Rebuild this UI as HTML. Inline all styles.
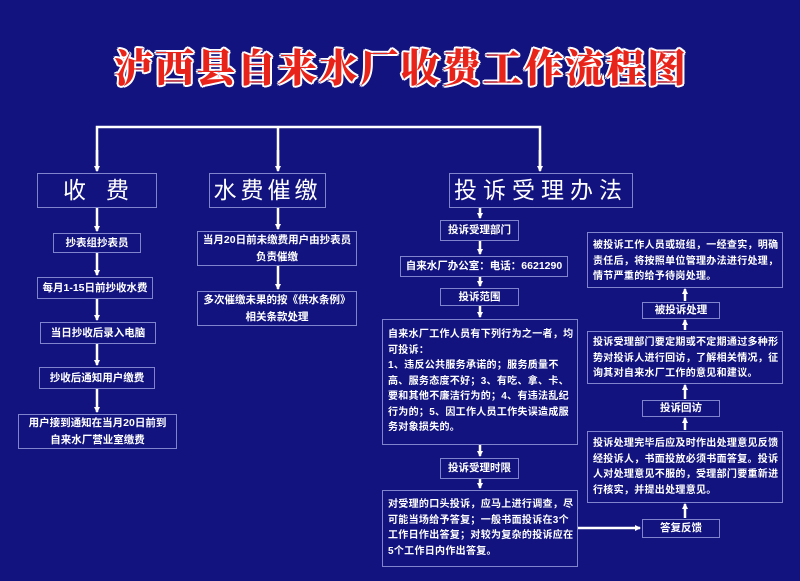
<!DOCTYPE html>
<html><head><meta charset="utf-8"><style>
body{margin:0;width:800px;height:581px;background:#12137f;overflow:hidden;position:relative;font-family:"Liberation Sans","Noto Sans CJK SC",sans-serif;color:#fff}
.b{position:absolute;box-sizing:border-box;border:1px solid #7f84cc;font-weight:bold;font-size:10.5px;line-height:17px;text-align:center;display:flex;align-items:center;justify-content:center}
.t{text-align:left;padding:4px 3px 4px 5px;line-height:15.5px;display:block;font-size:10px;letter-spacing:0.3px}
.h{font-size:23px;font-weight:normal;letter-spacing:6px}
#title{position:absolute;left:110px;top:38px;width:582px;text-align:center;font-family:"Noto Serif CJK SC",serif;font-weight:900;font-size:39px;color:#e8231a;letter-spacing:2px;text-shadow:2px 0 #fff,-2px 0 #fff,0 2px #fff,0 -2px #fff,1.5px 1.5px #fff,-1.5px -1.5px #fff,1.5px -1.5px #fff,-1.5px 1.5px #fff}
svg{position:absolute;left:0;top:0}
</style></head><body>
<div id="title">泸西县自来水厂收费工作流程图</div>
<svg width="800" height="581">
<defs><marker id="a" markerWidth="6" markerHeight="6" refX="5" refY="3" orient="auto" markerUnits="userSpaceOnUse"><path d="M0,0L6,3L0,6z" fill="#fff"/></marker></defs>
<g stroke="#fff" stroke-width="2.5" fill="none">
<path d="M97,170V127H540V170"/>
<line x1="278" y1="127" x2="278" y2="170"/>
</g>
<g stroke="#fff" stroke-width="2.5" marker-end="url(#a)">
<line x1="97" y1="150" x2="97" y2="171"/>
<line x1="278" y1="150" x2="278" y2="171"/>
<line x1="540" y1="150" x2="540" y2="171"/>
<line x1="97" y1="208" x2="97" y2="231"/>
<line x1="97" y1="253" x2="97" y2="275"/>
<line x1="97" y1="299" x2="97" y2="320"/>
<line x1="97" y1="344" x2="97" y2="365"/>
<line x1="97" y1="389" x2="97" y2="412"/>
<line x1="278" y1="208" x2="278" y2="229"/>
<line x1="278" y1="266" x2="278" y2="289"/>
<line x1="480" y1="208" x2="480" y2="218"/>
<line x1="480" y1="241" x2="480" y2="254"/>
<line x1="480" y1="277" x2="480" y2="286"/>
<line x1="480" y1="306" x2="480" y2="317"/>
<line x1="480" y1="445" x2="480" y2="456"/>
<line x1="480" y1="479" x2="480" y2="488"/>
<line x1="578" y1="528" x2="640" y2="528"/>
<line x1="685" y1="518" x2="685" y2="504"/>
<line x1="685" y1="430" x2="685" y2="418"/>
<line x1="685" y1="399" x2="685" y2="385"/>
<line x1="685" y1="330" x2="685" y2="320"/>
<line x1="685" y1="301" x2="685" y2="289"/>
</g>
</svg>
<div class="b h" style="left:37px;top:173px;width:120px;height:35px;letter-spacing:20px;padding-left:18px">收费</div>
<div class="b h" style="left:209px;top:173px;width:117px;height:35px;letter-spacing:4px">水费催缴</div>
<div class="b h" style="left:449px;top:173px;width:184px;height:35px;letter-spacing:6px">投诉受理办法</div>
<div class="b" style="left:53px;top:233px;width:88px;height:20px">抄表组抄表员</div>
<div class="b" style="left:37px;top:277px;width:116px;height:22px">每月1-15日前抄收水费</div>
<div class="b" style="left:40px;top:322px;width:116px;height:22px">当日抄收后录入电脑</div>
<div class="b" style="left:39px;top:367px;width:116px;height:22px">抄收后通知用户缴费</div>
<div class="b" style="left:18px;top:414px;width:159px;height:35px">用户接到通知在当月20日前到<br>自来水厂营业室缴费</div>
<div class="b" style="left:197px;top:231px;width:160px;height:35px">当月20日前未缴费用户由抄表员<br>负责催缴</div>
<div class="b" style="left:197px;top:291px;width:160px;height:35px">多次催缴未果的按《供水条例》<br>相关条款处理</div>
<div class="b" style="left:440px;top:220px;width:79px;height:21px">投诉受理部门</div>
<div class="b" style="left:400px;top:256px;width:168px;height:21px">自来水厂办公室：电话：6621290</div>
<div class="b" style="left:440px;top:288px;width:79px;height:18px">投诉范围</div>
<div class="b t" style="left:382px;top:319px;width:196px;height:126px;padding-top:7px">自来水厂工作人员有下列行为之一者，均<br>可投诉：<br>1、违反公共服务承诺的；服务质量不<br>高、服务态度不好；3、有吃、拿、卡、<br>要和其他不廉洁行为的；4、有违法乱纪<br>行为的；5、因工作人员工作失误造成服<br>务对象损失的。</div>
<div class="b" style="left:440px;top:458px;width:79px;height:21px">投诉受理时限</div>
<div class="b t" style="left:382px;top:490px;width:196px;height:77px;padding-top:6px">对受理的口头投诉，应马上进行调查，尽<br>可能当场给予答复；一般书面投诉在3个<br>工作日作出答复；对较为复杂的投诉应在<br>5个工作日内作出答复。</div>
<div class="b" style="left:642px;top:519px;width:78px;height:19px">答复反馈</div>
<div class="b t" style="left:587px;top:232px;width:196px;height:56px;padding-top:5px">被投诉工作人员或班组，一经查实，明确<br>责任后，将按照单位管理办法进行处理，<br>情节严重的给予待岗处理。</div>
<div class="b" style="left:642px;top:302px;width:78px;height:17px">被投诉处理</div>
<div class="b t" style="left:587px;top:331px;width:196px;height:53px;padding-top:3px">投诉受理部门要定期或不定期通过多种形<br>势对投诉人进行回访，了解相关情况，征<br>询其对自来水厂工作的意见和建议。</div>
<div class="b" style="left:642px;top:400px;width:78px;height:17px">投诉回访</div>
<div class="b t" style="left:587px;top:431px;width:196px;height:72px;padding-top:4px">投诉处理完毕后应及时作出处理意见反馈<br>经投诉人，书面投放必须书面答复。投诉<br>人对处理意见不服的，受理部门要重新进<br>行核实，并提出处理意见。</div>
</body></html>
